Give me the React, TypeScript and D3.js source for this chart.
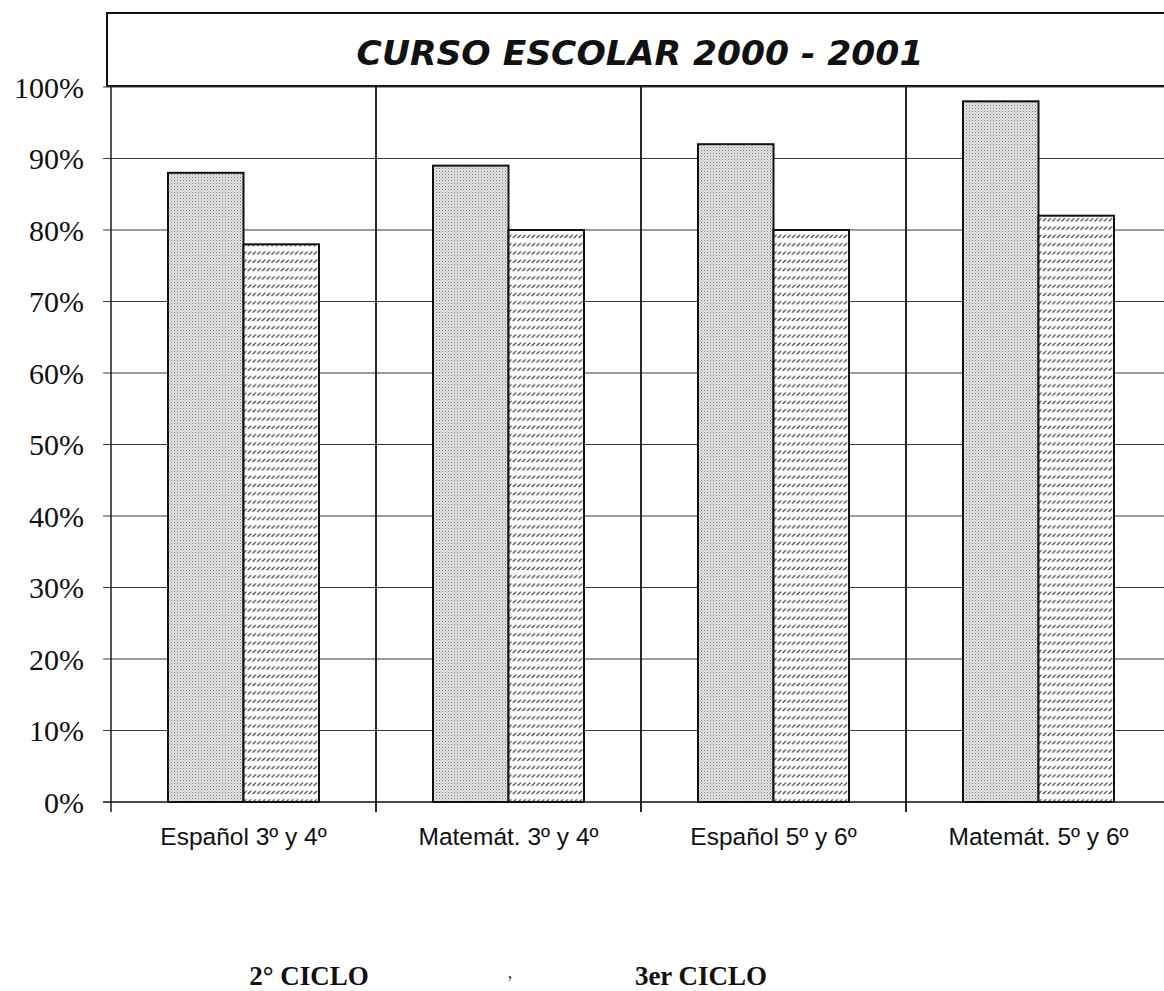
import React from 'react';
import * as d3 from 'd3';

const WIDTH = 1164;
const HEIGHT = 991;

const categories = ['Español 3º y 4º', 'Matemát. 3º y 4º', 'Español 5º y 6º', 'Matemát. 5º y 6º'];
const series = ['a', 'b'];
const valuesA = [0.88, 0.89, 0.92, 0.98];
const valuesB = [0.78, 0.8, 0.8, 0.82];
const yTicks = [0, 0.1, 0.2, 0.3, 0.4, 0.5, 0.6, 0.7, 0.8, 0.9, 1];
const ciclos = ['2° CICLO', '3er CICLO'];
const title = 'CURSO ESCOLAR 2000 - 2001';

const margin = { left: 111, top: 87, bottom: 802 };
const bandStep = 265;

const App: React.FC = () => {
  const x = d3
    .scaleBand<string>()
    .domain(categories)
    .range([margin.left, margin.left + bandStep * categories.length])
    .padding(0);

  const xs = d3
    .scaleBand<string>()
    .domain(series)
    .range([0, x.bandwidth()])
    .paddingInner(0)
    .paddingOuter(0.755);

  const y = d3.scaleLinear().domain([0, 1]).range([margin.bottom, margin.top]);

  const fmt = d3.format('.0%');

  // ciclo labels sit under pairs of categories (a bit left of the pair centre)
  const cicloX = [x(categories[0])! + 198, x(categories[2])! + 60];

  return (
    <svg
      width={WIDTH}
      height={HEIGHT}
      style={{ position: 'absolute', left: 0, top: 0, background: '#fff' }}
    >
      <defs>
        <pattern id="dots" width={3} height={3} patternUnits="userSpaceOnUse">
          <rect width={3} height={3} fill="#e6e6e6" />
          <rect x={0} y={0} width={1} height={1} fill="#7a7a7a" />
          <rect x={1.5} y={1.5} width={1} height={1} fill="#a0a0a0" />
        </pattern>
        <pattern id="hatch" width={4.7} height={8.3} patternUnits="userSpaceOnUse">
          <rect width={4.7} height={8.3} fill="#fff" />
          <path d="M0.6,5.6 L4.0,2.4" stroke="#333" strokeWidth={1.2} />
        </pattern>
      </defs>

      {/* title box */}
      <rect x={107} y={13} width={1100} height={73} fill="#fff" stroke="#111" strokeWidth={2} />
      <text
        x={640}
        y={65}
        textAnchor="middle"
        fontFamily="'DejaVu Sans', sans-serif"
        fontWeight="bold"
        fontStyle="italic"
        fontSize={34.5}
        fill="#111"
      >
        {title}
      </text>

      {/* horizontal grid */}
      {yTicks.map((t) => (
        <line
          key={`g${t}`}
          x1={margin.left - 8}
          x2={WIDTH}
          y1={y(t)}
          y2={y(t)}
          stroke={t === 0 ? '#111' : '#3a3a3a'}
          strokeWidth={t === 0 ? 1.6 : 1}
        />
      ))}

      {/* y labels */}
      {yTicks.map((t) => (
        <text
          key={`l${t}`}
          x={84}
          y={y(t)}
          dy="0.35em"
          textAnchor="end"
          fontFamily="'Liberation Serif', 'Times New Roman', serif"
          fontSize={30}
          fill="#111"
        >
          {fmt(t)}
        </text>
      ))}

      {/* vertical dividers */}
      {categories.map((c) => (
        <line
          key={`v${c}`}
          x1={x(c)!}
          x2={x(c)!}
          y1={margin.top}
          y2={margin.bottom + 10}
          stroke="#111"
          strokeWidth={c === categories[0] ? 1.4 : 1.8}
        />
      ))}

      {/* bars */}
      {categories.map((c, i) => (
        <g key={`b${c}`} transform={`translate(${x(c)},0)`}>
          <rect
            x={xs('a')}
            y={y(valuesA[i])}
            width={xs.bandwidth()}
            height={y(0) - y(valuesA[i])}
            fill="url(#dots)"
            stroke="#111"
            strokeWidth={2}
          />
          <rect
            x={xs('b')}
            y={y(valuesB[i])}
            width={xs.bandwidth()}
            height={y(0) - y(valuesB[i])}
            fill="url(#hatch)"
            stroke="#111"
            strokeWidth={2}
          />
        </g>
      ))}

      {/* category labels */}
      {categories.map((c) => (
        <text
          key={`c${c}`}
          x={x(c)! + x.bandwidth() / 2}
          y={845}
          textAnchor="middle"
          fontFamily="'Liberation Sans', Arial, sans-serif"
          fontSize={24.5}
          fill="#111"
        >
          {c}
        </text>
      ))}

      {/* ciclos */}
      {ciclos.map((c, i) => (
        <text
          key={c}
          x={cicloX[i]}
          y={985}
          textAnchor="middle"
          fontFamily="'Liberation Serif', 'Times New Roman', serif"
          fontWeight="bold"
          fontSize={27}
          fill="#111"
        >
          {c}
        </text>
      ))}
      <text
        x={510}
        y={978}
        textAnchor="middle"
        fontFamily="'Liberation Serif', serif"
        fontSize={18}
        fill="#333"
      >
        ,
      </text>
    </svg>
  );
};

export default App;
